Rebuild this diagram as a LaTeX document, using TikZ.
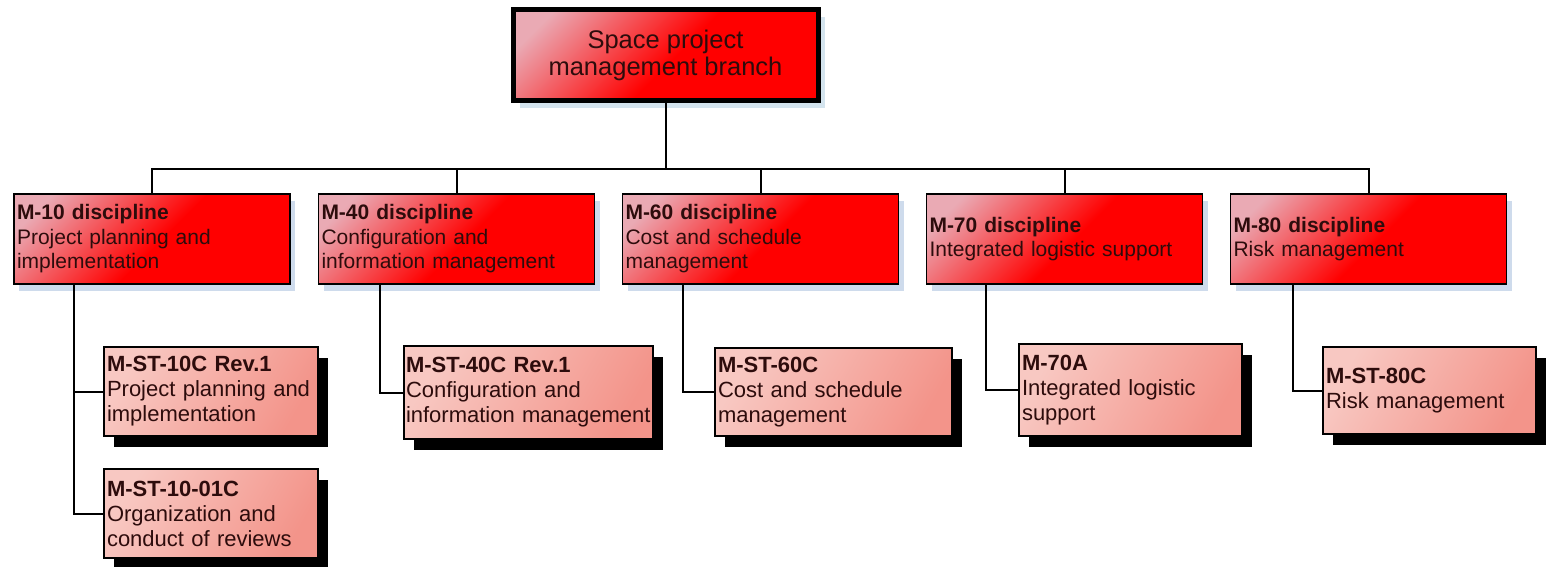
\documentclass[tikz,border=0pt]{standalone}
\usepackage{fontspec}
\setmainfont{Liberation Sans}
\usetikzlibrary{shadows}

\definecolor{txt}{RGB}{45,12,12}
\definecolor{hilite}{RGB}{234,170,180}
\definecolor{brightred}{RGB}{255,0,0}
\definecolor{salmonA}{RGB}{248,200,194}
\definecolor{salmonB}{RGB}{243,148,138}
\definecolor{haze}{RGB}{206,219,236}
\definecolor{hazetop}{RGB}{212,228,238}

% glossy fills
\pgfdeclarehorizontalshading{redgloss}{100bp}{color(0bp)=(hilite); color(22bp)=(hilite); color(52bp)=(brightred); color(100bp)=(brightred)}
\pgfdeclarehorizontalshading{salmongloss}{100bp}{color(0bp)=(salmonA); color(25bp)=(salmonA); color(75bp)=(salmonB); color(100bp)=(salmonB)}

\tikzset{
  wire/.style={draw=black, line width=2pt},
  branchbox/.style={shade, shading=redgloss, shading angle=-45, draw=black,
    line width=5pt, minimum width=305pt, minimum height=91pt, align=center,
    text=txt, font=\fontsize{25.5}{27}\selectfont,
    drop shadow={shadow xshift=7pt, shadow yshift=-7pt, fill=hazetop, opacity=1}},
  discbox/.style={shade, shading=redgloss, shading angle=-45, draw=black,
    line width=1.8pt, minimum height=90pt, text width=270pt, inner xsep=3pt,
    align=left, text=txt, font=\fontsize{21}{24.5}\selectfont,
    drop shadow={shadow xshift=5pt, shadow yshift=-7pt, fill=haze, opacity=1}},
  stdbox/.style={shade, shading=salmongloss, shading angle=-30, draw=black,
    line width=1.8pt, inner xsep=3pt, align=left, text=txt,
    font=\fontsize{22}{25}\selectfont,
    drop shadow={shadow xshift=10pt, shadow yshift=-11pt, fill=black, opacity=1}}
}

\begin{document}
\begin{tikzpicture}[x=1pt, y=-1pt]
\useasboundingbox (0,0) rectangle (1547,566);

% root of the branch
\node[branchbox] (top) at (665.5,55) {Space project\\management branch};

% disciplines
\node[discbox] (d1) at (152,239)    {\textbf{M-10 discipline}\\Project planning and\\implementation};
\node[discbox] (d2) at (456.5,239)  {\textbf{M-40 discipline}\\Configuration and\\information management};
\node[discbox] (d3) at (760.5,239)  {\textbf{M-60 discipline}\\Cost and schedule\\management};
\node[discbox] (d4) at (1064.5,239) {\textbf{M-70 discipline}\\Integrated logistic support};
\node[discbox] (d5) at (1368.5,239) {\textbf{M-80 discipline}\\Risk management};

% standards
\node[stdbox, minimum height=89pt, text width=208pt] (c1) at (211,391.5)
  {\textbf{M-ST-10C Rev.1}\\Project planning and\\implementation};
\node[stdbox, minimum height=89pt, text width=208pt] (c2) at (211,513.5)
  {\textbf{M-ST-10-01C}\\Organization and\\conduct of reviews};
\node[stdbox, minimum height=93pt, text width=245pt, inner xsep=2pt] (c4) at (528.5,392.5)
  {\textbf{M-ST-40C Rev.1}\\Configuration and\\information management};
\node[stdbox, minimum height=88pt, text width=231pt] (c6) at (833.5,392)
  {\textbf{M-ST-60C}\\Cost and schedule\\management};
\node[stdbox, minimum height=92pt, text width=217pt] (c7) at (1130.5,390)
  {\textbf{M-70A}\\Integrated logistic\\support};
\node[stdbox, minimum height=87pt, text width=207pt] (c8) at (1429.5,390.5)
  {\textbf{M-ST-80C}\\Risk management};

% bus from the root to the disciplines
\coordinate (bus) at (665.5,169);
\draw[wire] (top.south) -- (top.south |- bus);
\draw[wire] (d1.north) |- (bus) -| (d5.north);
\draw[wire] (d2.north) -- (d2.north |- bus);
\draw[wire] (d3.north) -- (d3.north |- bus);
\draw[wire] (d4.north) -- (d4.north |- bus);

% discipline to standards
\coordinate (t1) at ([xshift=61pt]d1.south west);
\coordinate (t2) at ([xshift=62pt]d2.south west);
\coordinate (t3) at ([xshift=61pt]d3.south west);
\coordinate (t4) at ([xshift=60pt]d4.south west);
\coordinate (t5) at ([xshift=63pt]d5.south west);
\draw[wire] (t1) |- (c1.west);
\draw[wire] (t1) |- (c2.west);
\draw[wire] (t2) |- (c4.west);
\draw[wire] (t3) |- (c6.west);
\draw[wire] (t4) |- (c7.west);
\draw[wire] (t5) |- (c8.west);
\end{tikzpicture}
\end{document}
